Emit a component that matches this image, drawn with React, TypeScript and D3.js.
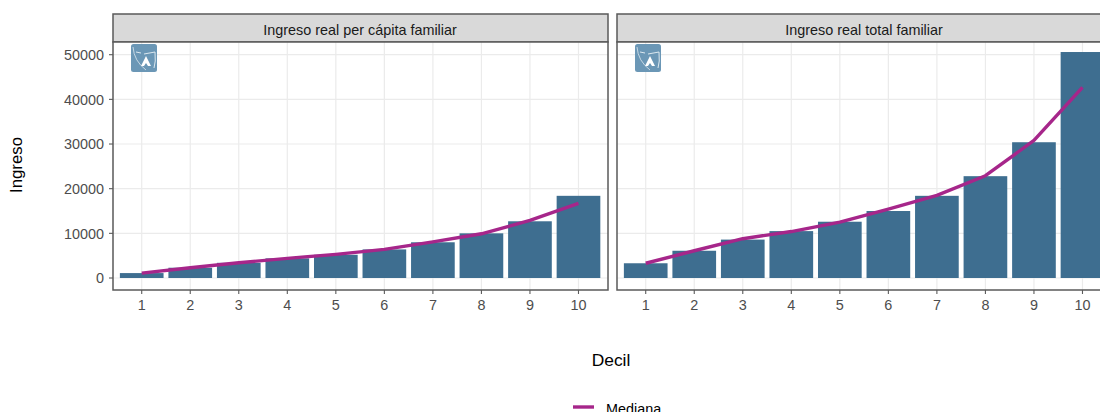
import React from "react";
import * as d3 from "d3";

const deciles = [1, 2, 3, 4, 5, 6, 7, 8, 9, 10];
const panelTitles = ["Ingreso real per cápita familiar", "Ingreso real total familiar"];
const perCapitaMean = [1100, 2300, 3400, 4400, 5200, 6400, 8000, 10000, 12700, 18400];
const perCapitaMedian = [1100, 2300, 3400, 4400, 5300, 6400, 8100, 9900, 12900, 16700];
const totalMean = [3300, 6100, 8600, 10500, 12600, 15000, 18400, 22800, 30400, 50600];
const totalMedian = [3300, 6100, 8800, 10400, 12500, 15400, 18500, 22900, 30800, 42700];
const yTicks = [0, 10000, 20000, 30000, 40000, 50000];

const panels = [
  { title: panelTitles[0], bars: perCapitaMean, line: perCapitaMedian, left: 113 },
  { title: panelTitles[1], bars: totalMean, line: totalMedian, left: 617 },
];

const PANEL_W = 495;
const TOP = 42;
const BOTTOM = 290;
const STRIP_TOP = 14;
const FONT = "'Liberation Sans', Arial, sans-serif";
const BAR = "#3E6E90";
const LINE = "#A6268A";
const FRAME = "#5A5A5A";

const y = d3.scaleLinear().domain([0, 50000]).range([278, 54.7]);

function Logo({ x, y: yy }: { x: number; y: number }) {
  return (
    <g transform={`translate(${x},${yy})`}>
      <rect width={26} height={28} rx={2.5} fill="#6B97B6" />
      <path d="M2 3 Q3 17 15 26" fill="none" stroke="#DCE7EF" strokeWidth={0.8} />
      <path d="M5 8 L10 9 M13 10 L24 8 M24 8 Q25 18 23 24" fill="none" stroke="#E8F0F5" strokeWidth={0.9} />
      <path d="M15 12 L20 22 L17 22 L15 19 L13 22 L10 22 Z" fill="#fff" />
    </g>
  );
}

function Panel({ p, idx }: { p: (typeof panels)[number]; idx: number }) {
  const x = d3.scaleLinear().domain([0.4, 10.6]).range([p.left - 0.4, p.left + PANEL_W - 0.4]);
  const line = d3
    .line<number>()
    .x((_, i) => x(deciles[i]))
    .y((v) => y(v))
    .curve(d3.curveLinear);
  const bw = (x(2) - x(1)) * 0.9;
  const clip = `clip-${idx}`;
  return (
    <g>
      <defs>
        <clipPath id={clip}>
          <rect x={p.left} y={TOP} width={PANEL_W} height={BOTTOM - TOP} />
        </clipPath>
      </defs>
      <rect x={p.left} y={STRIP_TOP} width={PANEL_W} height={TOP - STRIP_TOP} fill="#D9D9D9" stroke={FRAME} strokeWidth={1.5} />
      <text x={p.left + PANEL_W / 2 - 0.5} y={35} textAnchor="middle" fontSize={14.4} fill="#1A1A1A" fontFamily={FONT}>
        {p.title}
      </text>
      <rect x={p.left} y={TOP} width={PANEL_W} height={BOTTOM - TOP} fill="#fff" />
      {yTicks.map((t) => (
        <line key={t} x1={p.left} x2={p.left + PANEL_W} y1={y(t)} y2={y(t)} stroke="#EBEBEB" strokeWidth={1.2} />
      ))}
      {deciles.map((d) => (
        <line key={d} x1={x(d)} x2={x(d)} y1={TOP} y2={BOTTOM} stroke="#EBEBEB" strokeWidth={1.2} />
      ))}
      <g clipPath={`url(#${clip})`}>
        {p.bars.map((v, i) => (
          <rect key={i} x={x(deciles[i]) - bw / 2} y={y(v)} width={bw} height={y(0) - y(v)} fill={BAR} />
        ))}
        <path d={line(p.line) ?? ""} fill="none" stroke={LINE} strokeWidth={3.4} strokeLinejoin="round" />
      </g>
      <Logo x={p.left + 18} y={44} />
      <rect x={p.left} y={TOP} width={PANEL_W} height={BOTTOM - TOP} fill="none" stroke={FRAME} strokeWidth={1.5} />
      {deciles.map((d) => (
        <g key={d}>
          <line x1={x(d)} x2={x(d)} y1={BOTTOM} y2={BOTTOM + 4} stroke={FRAME} strokeWidth={1.1} />
          <text x={x(d)} y={310} textAnchor="middle" fontSize={14.4} fill="#4D4D4D" fontFamily={FONT}>
            {d}
          </text>
        </g>
      ))}
    </g>
  );
}

export default function App() {
  return (
    <svg
      width={1100}
      height={412}
      viewBox="0 0 1100 412"
      style={{ position: "fixed", left: 0, top: 0, display: "block", background: "#fff" }}
    >
      {panels.map((p, i) => (
        <Panel key={p.title} p={p} idx={i} />
      ))}
      {yTicks.map((t) => (
        <g key={t}>
          <line x1={109} x2={113} y1={y(t)} y2={y(t)} stroke={FRAME} strokeWidth={1.1} />
          <text x={104} y={y(t) + 5.2} textAnchor="end" fontSize={14.4} fill="#4D4D4D" fontFamily={FONT}>
            {t}
          </text>
        </g>
      ))}
      <text transform="translate(22,165) rotate(-90)" textAnchor="middle" fontSize={16.8} fill="#000" fontFamily={FONT}>
        Ingreso
      </text>
      <text x={611} y={366} textAnchor="middle" fontSize={17.4} fill="#000" fontFamily={FONT}>
        Decil
      </text>
      <line x1={573} x2={594} y1={407} y2={407} stroke={LINE} strokeWidth={3.4} />
      <text x={606} y={413.5} fontSize={14.4} fill="#000" fontFamily={FONT}>
        Mediana
      </text>
    </svg>
  );
}
